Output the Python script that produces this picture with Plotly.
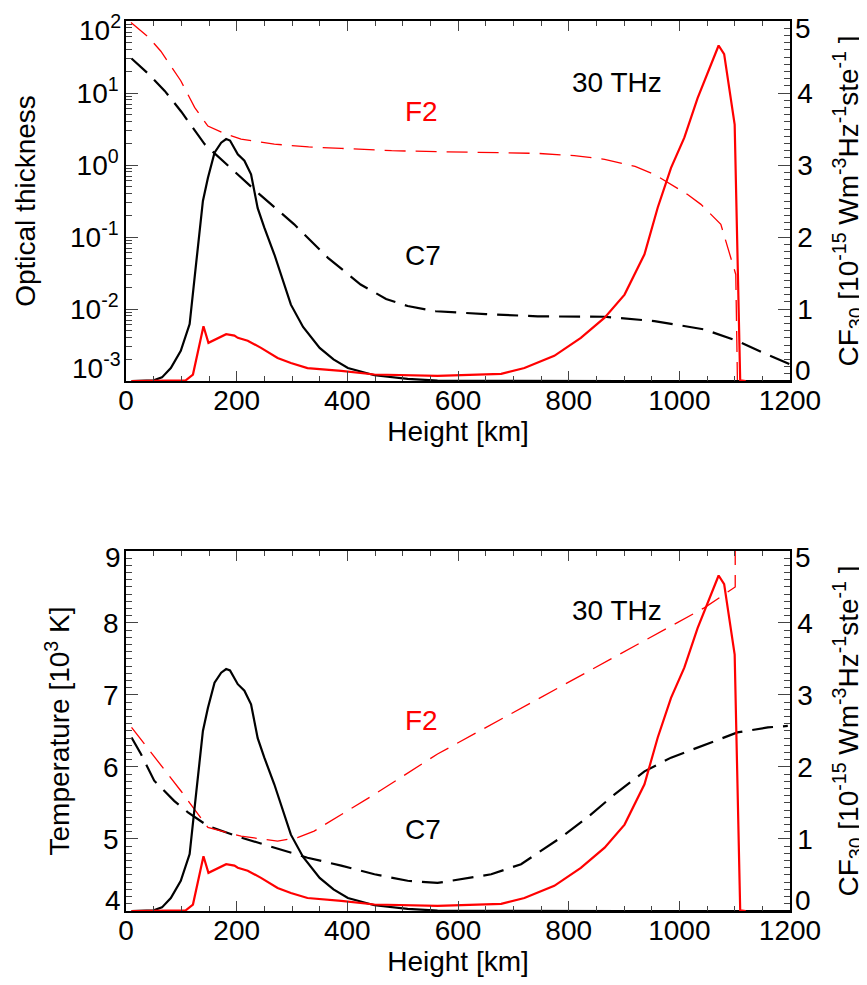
import plotly.graph_objects as go

# ---------------- data ----------------
# Top panel: optical thickness (left, log) vs height
h_tau_c7 = [10, 40, 70, 100, 142, 184, 238, 304, 365, 424, 470, 509, 560, 650, 744, 865, 955, 1045, 1105, 1150, 1200]
tau_c7 = [30.2, 18.6, 10.7, 5.5, 1.95, 1.0, 0.412, 0.150, 0.0513, 0.0219, 0.0138, 0.011, 0.0093, 0.0085, 0.0079,
          0.0078, 0.0068, 0.0052, 0.0036, 0.0025, 0.0017]

h_tau_f2 = [9, 40, 63, 99, 124, 148, 180, 208, 268, 330, 389, 480, 563, 650, 744, 810, 865, 920, 955, 1015, 1039,
            1075, 1093, 1102, 1104, 1106]
tau_f2 = [95.5, 60.3, 38.0, 14.8, 6.31, 3.47, 2.69, 2.29, 1.95, 1.78, 1.70, 1.58, 1.53, 1.50, 1.45, 1.35, 1.20,
          0.955, 0.741, 0.389, 0.284, 0.150, 0.0513, 0.0302, 0.00316, 0.0003]

# Contribution functions at 30 THz (right axes, both panels)
h_cf_c7 = [10, 50, 65, 81, 99, 115, 127, 139, 148, 160, 172, 181, 188, 196, 202, 214, 226, 238, 250, 268, 283,
           298, 320, 350, 375, 401, 449, 509, 563, 700, 900, 1200]
cf_c7 = [0, 0.01, 0.05, 0.18, 0.42, 0.79, 1.65, 2.5, 2.82, 3.17, 3.31, 3.36, 3.34, 3.22, 3.15, 3.06, 2.87, 2.4,
         2.13, 1.76, 1.42, 1.06, 0.75, 0.46, 0.3, 0.18, 0.08, 0.03, 0.005, 0, 0, 0]

h_cf_f2 = [10, 108, 121, 140, 149, 166, 181, 196, 202, 220, 244, 274, 298, 328, 389, 449, 563, 678, 720, 774, 822,
           865, 901, 937, 961, 985, 1009, 1033, 1071, 1081, 1100, 1110, 1120]
cf_f2 = [0, 0.01, 0.09, 0.76, 0.53, 0.6, 0.65, 0.63, 0.60, 0.56, 0.46, 0.32, 0.25, 0.18, 0.14, 0.09, 0.07, 0.1,
         0.18, 0.35, 0.6, 0.88, 1.2, 1.76, 2.41, 2.96, 3.38, 3.93, 4.66, 4.54, 3.56, 0.01, 0]

# Bottom panel: temperature [10^3 K]
h_t_c7 = [10, 27, 51, 87, 112, 148, 208, 268, 328, 389, 449, 509, 563, 660, 714, 786, 834, 883, 937, 985, 1045,
          1105, 1160, 1196]
t_c7 = [6.41, 6.18, 5.81, 5.53, 5.37, 5.18, 5.02, 4.88, 4.74, 4.63, 4.51, 4.42, 4.39, 4.51, 4.65, 5.02, 5.30, 5.62,
        5.94, 6.13, 6.31, 6.48, 6.55, 6.57]

h_t_f2 = [10, 57, 99, 148, 208, 274, 310, 340, 389, 449, 563, 684, 804, 925, 1045, 1101, 1101]
t_f2 = [6.55, 6.08, 5.67, 5.16, 5.04, 4.97, 5.02, 5.11, 5.34, 5.62, 6.18, 6.69, 7.19, 7.70, 8.21, 8.50, 9.5]

x_ticks = [0, 200, 400, 600, 800, 1000, 1200]
tau_ticks = [1e-3, 1e-2, 1e-1, 1e0, 1e1, 1e2]
tau_ticktext = ["10<sup>-3</sup>", "10<sup>-2</sup>", "10<sup>-1</sup>", "10<sup>0</sup>", "10<sup>1</sup>",
                "10<sup>2</sup>"]
cf_ticks = [0, 1, 2, 3, 4, 5]
cf_ticktext = ["0", "1", "2", "3", "4", "5"]
t_ticks = [4, 5, 6, 7, 8, 9]
t_ticktext = ["4", "5", "6", "7", "8", "9"]

labels_top = [("30 THz", 888, 4.14, "black"), ("F2", 534, 3.74, "red"), ("C7", 536, 1.74, "black")]
labels_bot = [("30 THz", 888, 8.17, "black"), ("F2", 534, 6.64, "red"), ("C7", 536, 5.13, "black")]

# ---------------- figure ----------------
FONT = "Liberation Sans, Arial, Helvetica, sans-serif"
TICKF = dict(family=FONT, size=28, color="black")
TITF = dict(family=FONT, size=28, color="black")
RED = "#ff0000"
DASH = "21px,10px"


def inner(texts):
    """Tick labels drawn by the axis itself: the end labels are drawn separately (nudged inward)."""
    return [""] + list(texts[1:-1]) + [""]


fig = go.Figure()

# top panel
fig.add_trace(go.Scatter(x=h_tau_c7, y=tau_c7, mode="lines", xaxis="x", yaxis="y",
                         line=dict(color="black", width=2.2, dash=DASH)))
fig.add_trace(go.Scatter(x=h_tau_f2, y=tau_f2, mode="lines", xaxis="x", yaxis="y",
                         line=dict(color=RED, width=1.3, dash=DASH)))
fig.add_trace(go.Scatter(x=h_cf_c7, y=cf_c7, mode="lines", xaxis="x", yaxis="y2",
                         line=dict(color="black", width=2.2)))
fig.add_trace(go.Scatter(x=h_cf_f2, y=cf_f2, mode="lines", xaxis="x", yaxis="y2",
                         line=dict(color=RED, width=2.2)))
# bottom panel
fig.add_trace(go.Scatter(x=h_t_c7, y=t_c7, mode="lines", xaxis="x2", yaxis="y3",
                         line=dict(color="black", width=2.2, dash=DASH)))
fig.add_trace(go.Scatter(x=h_t_f2, y=t_f2, mode="lines", xaxis="x2", yaxis="y3",
                         line=dict(color=RED, width=1.3, dash=DASH)))
fig.add_trace(go.Scatter(x=h_cf_c7, y=cf_c7, mode="lines", xaxis="x2", yaxis="y4",
                         line=dict(color="black", width=2.2)))
fig.add_trace(go.Scatter(x=h_cf_f2, y=cf_f2, mode="lines", xaxis="x2", yaxis="y4",
                         line=dict(color=RED, width=2.2)))

common_x = dict(range=[0, 1200], tickvals=x_ticks, ticks="inside", ticklen=10, tickwidth=1.2,
                showline=True, linewidth=1.5, linecolor="black", mirror="ticks", showgrid=False,
                zeroline=False, tickfont=TICKF, ticklabelstandoff=-6, automargin=False,
                ticklabeloverflow="allow",
                minor=dict(dtick=50, tick0=0, ticks="inside", ticklen=5, tickwidth=1, showgrid=False),
                title=dict(text="Height [km]", font=TITF, standoff=1))

tau_minor = [m * 10 ** e for e in range(-3, 2) for m in range(2, 10)]
right_title = "CF<sub>30</sub> [10<sup>-15</sup> Wm<sup>-3</sup>Hz<sup>-1</sup>ste<sup>-1</sup> ]"

common_yl = dict(ticks="inside", ticklen=12, tickwidth=1.2, showline=True, linewidth=1.5, linecolor="black",
                 showgrid=False, zeroline=False, tickfont=TICKF, side="left", automargin=False,
                 ticklabeloverflow="allow")
common_yr = dict(ticks="inside", ticklen=12, tickwidth=1.2, showline=True, linewidth=1.5, linecolor="black",
                 showgrid=False, zeroline=False, tickfont=TICKF, side="right", range=[0, 5], tickvals=cf_ticks,
                 ticktext=inner(cf_ticktext), automargin=False, ticklabeloverflow="allow",
                 minor=dict(dtick=0.1, tick0=0, ticks="inside", ticklen=6, tickwidth=1, showgrid=False),
                 title=dict(text=right_title, font=TITF, standoff=26))

top_dom = [0.5955, 1.0]
bot_dom = [0.0, 0.4045]

fig.update_layout(
    width=867, height=985,
    margin=dict(l=118, r=85, t=13, b=82),
    paper_bgcolor="white", plot_bgcolor="white",
    showlegend=False,
    font=dict(family=FONT, color="black"),
    xaxis=dict(domain=[0, 1], anchor="y", **common_x),
    xaxis2=dict(domain=[0, 1], anchor="y3", **common_x),
    yaxis=dict(domain=top_dom, anchor="x", type="log", range=[-3, 2], tickvals=tau_ticks,
               ticktext=inner(tau_ticktext),
               minor=dict(tickmode="array", tickvals=tau_minor, ticks="inside", ticklen=6, tickwidth=1,
                          showgrid=False),
               title=dict(text="Optical thickness", font=TITF, standoff=26), **common_yl),
    yaxis2=dict(domain=top_dom, anchor="x", overlaying="y", **common_yr),
    yaxis3=dict(domain=bot_dom, anchor="x2", range=[4, 9], tickvals=t_ticks, ticktext=inner(t_ticktext),
                minor=dict(dtick=0.1, tick0=0, ticks="inside", ticklen=6, tickwidth=1, showgrid=False),
                title=dict(text="Temperature [10<sup>3</sup> K]", font=TITF, standoff=25), **common_yl),
    yaxis4=dict(domain=bot_dom, anchor="x2", overlaying="y3", **common_yr),
)

# end-of-axis tick labels, nudged inward as in the original figure
end_labels = [
    # (text, yref, y-position in axis units, side, yshift)
    (tau_ticktext[-1], "y", 2, "left", -7), (tau_ticktext[0], "y", -3, "left", 15),
    (cf_ticktext[-1], "y2", cf_ticks[-1], "right", -7), (cf_ticktext[0], "y2", cf_ticks[0], "right", 11),
    (t_ticktext[-1], "y3", t_ticks[-1], "left", -7), (t_ticktext[0], "y3", t_ticks[0], "left", 11),
    (cf_ticktext[-1], "y4", cf_ticks[-1], "right", -7), (cf_ticktext[0], "y4", cf_ticks[0], "right", 11),
]
for txt, yr, yv, side, ys in end_labels:
    fig.add_annotation(xref="paper", x=0 if side == "left" else 1, yref=yr, y=yv, text=txt, showarrow=False,
                       xanchor="right" if side == "left" else "left", yanchor="middle",
                       xshift=-4 if side == "left" else 4, yshift=ys, borderpad=0,
                       font=TICKF)

for txt, xv, yv, col in labels_top:
    fig.add_annotation(x=xv, y=yv, xref="x", yref="y2", text=txt, showarrow=False,
                       font=dict(family=FONT, size=28, color=col))
for txt, xv, yv, col in labels_bot:
    fig.add_annotation(x=xv, y=yv, xref="x2", yref="y3", text=txt, showarrow=False,
                       font=dict(family=FONT, size=28, color=col))

fig.write_html("out.html")
